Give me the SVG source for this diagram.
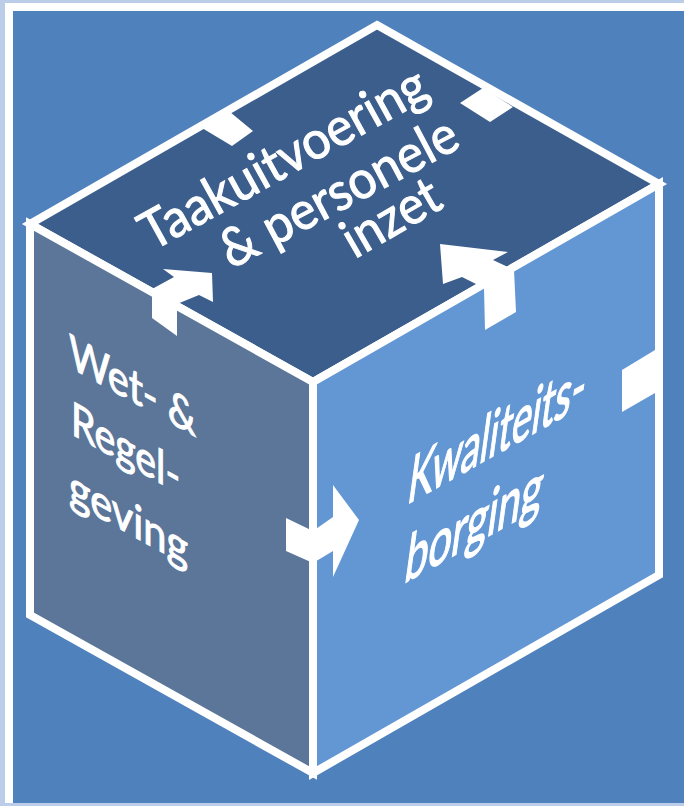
<svg xmlns="http://www.w3.org/2000/svg" width="684" height="806" viewBox="0 0 684 806">
  <style>
    .edge { stroke: #ffffff; stroke-width: 8; stroke-linejoin: miter; }
    .lbl { fill: #ffffff; stroke: #ffffff; stroke-width: 1; font-family: Lato, "Open Sans", "Liberation Sans", sans-serif; }
    .wht { fill: #ffffff; }
  </style>
  <rect x="0" y="0" width="684" height="806" fill="#bccde9"/>
  <rect x="5" y="3" width="679" height="800" fill="#ffffff"/>
  <rect x="13" y="11" width="671" height="792" fill="#4f81bd"/>

  <g id="face-top">
    <polygon class="edge" points="377,25 659,184 313,382 30,224" fill="#3b5e8c"/>
    <g class="lbl" font-size="53" text-anchor="middle">
      <text transform="translate(292,174) rotate(-29)" textLength="320" lengthAdjust="spacingAndGlyphs">Taakuitvoering</text>
      <text transform="translate(347,208) rotate(-28)" textLength="262" lengthAdjust="spacingAndGlyphs">&amp; personele</text>
      <text transform="translate(400,233) rotate(-30)" textLength="105" lengthAdjust="spacingAndGlyphs">inzet</text>
    </g>
  </g>

  <g id="face-left">
    <polygon class="edge" points="30,224 313,382 313,773 30,615" fill="#5b7699"/>
    <g class="lbl" font-size="44">
      <text transform="matrix(1,0.551,0,1.07,69,367)" textLength="127" lengthAdjust="spacingAndGlyphs">Wet- &amp;</text>
      <text transform="matrix(1,0.551,0,1.07,71,434)" textLength="109" lengthAdjust="spacingAndGlyphs">Regel-</text>
      <text transform="matrix(1,0.551,0,1.07,69,501)" textLength="119" lengthAdjust="spacingAndGlyphs">geving</text>
    </g>
  </g>

  <g id="face-right">
    <polygon class="edge" points="313,382 659,184 659,575 313,773" fill="#6397d4"/>
    <g class="lbl" font-size="42">
      <text transform="matrix(1,-0.56,-0.22,1.6,406,505)" textLength="177" lengthAdjust="spacingAndGlyphs">Kwaliteits-</text>
      <text transform="matrix(1,-0.56,-0.22,1.6,403,584)" textLength="137" lengthAdjust="spacingAndGlyphs">borging</text>
    </g>
  </g>

  <g id="tabs">
    <polygon class="wht" points="202,128 230,112 253,131 232,146"/>
    <polygon class="wht" points="460,103 483,88 513,107 490,122"/>
    <polygon class="wht" points="622,370 655,350 655,393 622,412"/>
  </g>

  <g id="connectors">
    <polygon id="arrow-left-top" class="wht" points="152,318 152,289 174,277 163,269 212,273 213,302 199,295 177,304 177,336"/>
    <polygon id="arrow-right-top" class="wht" points="485,330 484,288 462,277 443,284 440,244 508,252 493,260 514,270 516,312"/>
    <polygon id="arrow-left-right" class="wht" points="286,518 313,531 333,517 333,485 359,520 333,577 333,551 313,563 286,551"/>
  </g>
</svg>
